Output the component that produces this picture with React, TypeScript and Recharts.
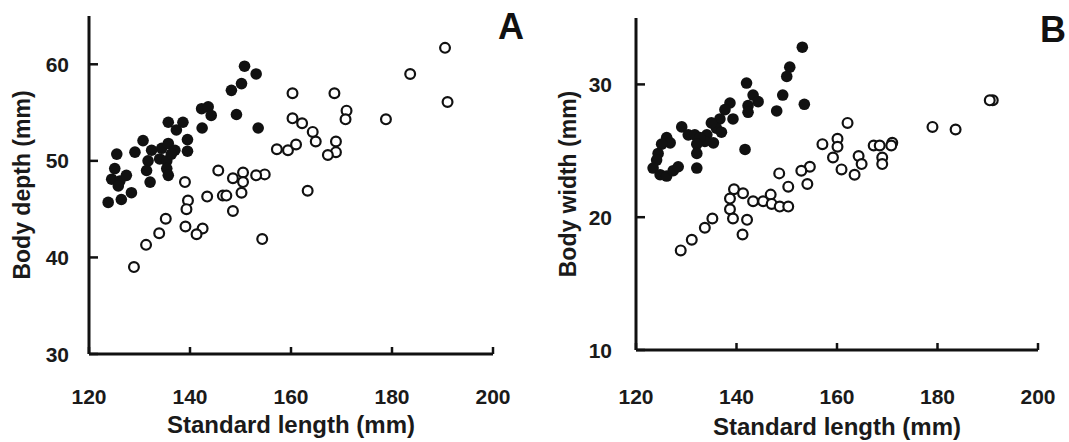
import * as React from 'react';
import { ScatterChart, Scatter, XAxis, YAxis } from 'recharts';

// standard length (mm) vs body measure (mm)
const lengthTicks = [120, 140, 160, 180, 200];
const depthTicks = [30, 40, 50, 60];
const widthTicks = [10, 20, 30];

const depthFilled: [number, number][] = [
  [150.8, 59.8], [153.1, 59.0], [150.2, 58.0], [148.2, 57.3], [149.2, 54.8], [153.5, 53.4],
  [142.3, 55.4], [143.6, 55.6], [144.2, 54.7], [142.4, 53.4], [135.7, 54.0], [138.6, 54.0],
  [137.3, 53.2], [139.5, 52.2], [139.5, 51.0], [130.7, 52.1], [129.1, 50.9], [125.5, 50.7],
  [132.4, 51.1], [134.4, 51.3], [135.7, 51.8], [137.0, 51.1], [131.7, 50.0], [134.0, 50.2],
  [135.4, 50.0], [136.3, 50.7], [131.4, 49.0], [135.4, 49.2], [135.7, 48.5], [132.1, 47.8],
  [125.1, 49.2], [124.5, 48.1], [126.1, 47.9], [127.4, 48.5], [125.8, 47.4], [123.8, 45.7],
  [126.4, 46.0], [128.4, 46.7],
];

const depthOpen: [number, number][] = [
  [190.5, 61.7], [183.6, 59.0], [191.0, 56.1], [160.3, 57.0], [168.6, 57.0], [171.0, 55.2],
  [170.8, 54.3], [178.8, 54.3], [160.3, 54.4], [162.2, 53.9], [164.3, 53.0], [164.9, 52.0],
  [168.9, 52.0], [168.9, 50.9], [167.3, 50.6], [157.2, 51.2], [159.4, 51.1], [161.0, 51.7],
  [154.8, 48.6], [163.3, 46.9], [154.3, 41.9], [145.6, 49.0], [148.5, 48.2], [150.5, 48.8],
  [150.5, 47.8], [153.1, 48.5], [150.2, 46.7], [139.0, 47.8], [139.6, 45.9], [139.3, 45.0],
  [143.4, 46.3], [146.5, 46.4], [147.2, 46.4], [148.5, 44.8], [135.2, 44.0], [133.9, 42.5],
  [131.3, 41.3], [128.9, 39.0], [139.1, 43.2], [142.5, 43.0], [141.3, 42.4],
];

const widthFilled: [number, number][] = [
  [153.1, 32.8], [150.6, 31.3], [150.0, 30.6], [142.0, 30.1], [143.3, 29.2], [144.3, 28.7],
  [142.3, 28.4], [142.3, 27.9], [149.2, 29.2], [148.0, 28.0], [153.5, 28.5], [141.7, 25.1],
  [138.7, 28.6], [139.3, 27.4], [137.7, 28.1], [136.7, 27.4], [136.0, 26.7], [137.0, 26.4],
  [135.4, 25.6], [135.0, 27.1], [134.1, 26.2], [133.7, 25.7], [129.1, 26.8], [130.4, 26.2],
  [131.7, 26.2], [132.7, 26.0], [132.1, 25.5], [132.1, 24.8], [132.1, 23.7], [126.1, 26.0],
  [126.8, 25.6], [125.1, 25.5], [124.4, 24.8], [124.1, 24.3], [123.4, 23.7], [124.8, 23.2],
  [126.1, 23.1], [127.4, 23.5], [128.4, 23.8],
];

const widthOpen: [number, number][] = [
  [157.1, 25.5], [160.1, 25.9], [160.1, 25.3], [159.2, 24.5], [160.9, 23.6], [154.6, 23.8],
  [152.9, 23.5], [154.1, 22.5], [148.5, 23.3], [150.3, 22.3], [139.5, 22.1], [141.3, 21.8],
  [138.7, 21.4], [143.3, 21.2], [145.3, 21.2], [146.8, 21.7], [147.0, 21.0], [148.6, 20.8],
  [150.3, 20.8], [138.7, 20.6], [139.3, 19.9], [142.1, 19.8], [141.2, 18.7], [135.2, 19.9],
  [133.7, 19.2], [131.1, 18.3], [128.9, 17.5], [191.0, 28.8], [190.4, 28.8], [179.0, 26.8],
  [183.6, 26.6], [162.1, 27.1], [164.3, 24.6], [164.9, 24.0], [163.5, 23.2], [167.3, 25.4],
  [168.5, 25.4], [171.0, 25.6], [170.8, 25.4], [169.0, 24.5], [169.0, 24.0],
];

const toPoints = (pairs: [number, number][]) => pairs.map(([x, y]) => ({ x, y }));

const FONT = '"Liberation Sans", Arial, Helvetica, sans-serif';
const INK = '#111';
const TEXT = '#1a1a1a';

const FilledDot = (p: any) => <circle cx={p.cx} cy={p.cy} r={5.8} fill={INK} />;
const OpenDot = (p: any) => (
  <circle cx={p.cx} cy={p.cy} r={4.9} fill="#fff" stroke={INK} strokeWidth={2.2} />
);

interface PanelProps {
  left: number;
  width: number;
  top: number;
  right: number;
  yWidth: number;
  xHeight: number;
  yDomain: [number, number];
  yTicks: number[];
  yLabel: string;
  yLabelOffset: number;
  yTickGap: number;
  xTickGap: number;
  xLabelOffset: number;
  filled: [number, number][];
  open: [number, number][];
  letter: string;
  letterLeft: number;
  letterTop: number;
}

const Panel: React.FC<PanelProps> = (p) => {
  const plotBottom = 442 - p.xHeight;
  const plotLeft = p.yWidth;

  // small inward tick marks, labels set well off the axes like the original
  const xTick = (t: any) => {
    const cx = t.payload.coordinate;
    return (
      <g>
        <line x1={cx} x2={cx} y1={plotBottom - 7} y2={plotBottom} stroke={INK} strokeWidth={2.5} />
        <text x={cx} y={plotBottom + p.xTickGap} dy="0.71em" textAnchor="middle"
          fontSize={21} fontWeight={700} fill={TEXT} fontFamily={FONT}>
          {t.payload.value}
        </text>
      </g>
    );
  };

  const yTick = (t: any) => {
    const cy = t.payload.coordinate;
    return (
      <g>
        <line x1={plotLeft} x2={plotLeft + 9} y1={cy} y2={cy} stroke={INK} strokeWidth={2.5} />
        <text x={plotLeft - p.yTickGap} y={cy} dy="0.36em" textAnchor="end"
          fontSize={21} fontWeight={700} fill={TEXT} fontFamily={FONT}>
          {t.payload.value}
        </text>
      </g>
    );
  };

  return (
    <div style={{ position: 'absolute', left: p.left, top: 0 }}>
      <ScatterChart width={p.width} height={442} margin={{ top: p.top, right: p.right, bottom: 0, left: 0 }}>
        <XAxis
          type="number"
          dataKey="x"
          domain={[120, 200]}
          ticks={lengthTicks}
          interval={0}
          height={p.xHeight}
          axisLine={{ stroke: INK, strokeWidth: 3 }}
          tickLine={false}
          tick={xTick}
          label={{
            value: 'Standard length (mm)',
            position: 'insideBottom',
            offset: p.xLabelOffset,
            style: { fontSize: 24, fontWeight: 700, fill: TEXT, fontFamily: FONT },
          }}
        />
        <YAxis
          type="number"
          dataKey="y"
          domain={p.yDomain}
          ticks={p.yTicks}
          interval={0}
          width={p.yWidth}
          axisLine={{ stroke: INK, strokeWidth: 3 }}
          tickLine={false}
          tick={yTick}
          label={{
            value: p.yLabel,
            angle: -90,
            position: 'insideLeft',
            offset: p.yLabelOffset,
            style: { textAnchor: 'middle', fontSize: 23, fontWeight: 700, fill: TEXT, fontFamily: FONT },
          }}
        />
        <Scatter data={toPoints(p.filled)} shape={FilledDot} isAnimationActive={false} />
        <Scatter data={toPoints(p.open)} shape={OpenDot} isAnimationActive={false} />
      </ScatterChart>
      <div
        style={{
          position: 'absolute',
          left: p.letterLeft,
          top: p.letterTop,
          fontFamily: FONT,
          fontWeight: 700,
          fontSize: 36,
          lineHeight: 1,
          color: INK,
        }}
      >
        {p.letter}
      </div>
    </div>
  );
};

export default function App() {
  return (
    <div style={{ position: 'absolute', left: 0, top: 0, width: 1069, height: 442, background: '#fff' }}>
      <Panel
        left={0}
        width={534}
        top={16}
        right={41}
        yWidth={89}
        xHeight={88}
        yDomain={[30, 65]}
        yTicks={depthTicks}
        yLabel="Body depth (mm)"
        yLabelOffset={22}
        yTickGap={20}
        xTickGap={35}
        xLabelOffset={9}
        filled={depthFilled}
        open={depthOpen}
        letter="A"
        letterLeft={498}
        letterTop={9}
      />
      <Panel
        left={534}
        width={535}
        top={18}
        right={31}
        yWidth={102}
        xHeight={92}
        yDomain={[10, 35]}
        yTicks={widthTicks}
        yLabel="Body width (mm)"
        yLabelOffset={34}
        yTickGap={24}
        xTickGap={39}
        xLabelOffset={7}
        filled={widthFilled}
        open={widthOpen}
        letter="B"
        letterLeft={506}
        letterTop={12}
      />
    </div>
  );
}
